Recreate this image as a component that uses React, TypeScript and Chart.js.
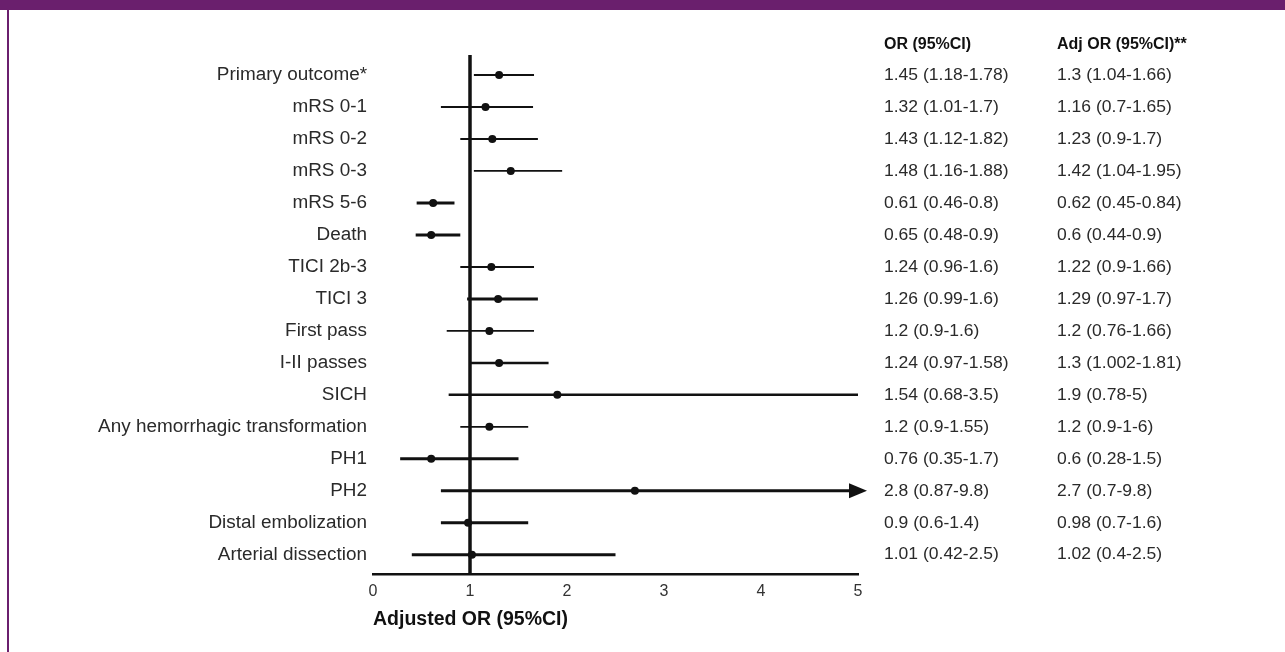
import { useEffect, useRef } from "react";
import { Chart, registerables } from "chart.js";

Chart.register(...registerables);

// ---- Data ----
const outcomes = [
  "Primary outcome*",
  "mRS 0-1",
  "mRS 0-2",
  "mRS 0-3",
  "mRS 5-6",
  "Death",
  "TICI 2b-3",
  "TICI 3",
  "First pass",
  "I-II passes",
  "SICH",
  "Any hemorrhagic transformation",
  "PH1",
  "PH2",
  "Distal embolization",
  "Arterial dissection",
];

const crudeOR = [
  "1.45 (1.18-1.78)",
  "1.32 (1.01-1.7)",
  "1.43 (1.12-1.82)",
  "1.48 (1.16-1.88)",
  "0.61 (0.46-0.8)",
  "0.65 (0.48-0.9)",
  "1.24 (0.96-1.6)",
  "1.26 (0.99-1.6)",
  "1.2 (0.9-1.6)",
  "1.24 (0.97-1.58)",
  "1.54 (0.68-3.5)",
  "1.2 (0.9-1.55)",
  "0.76 (0.35-1.7)",
  "2.8 (0.87-9.8)",
  "0.9 (0.6-1.4)",
  "1.01 (0.42-2.5)",
];

const adjustedORText = [
  "1.3 (1.04-1.66)",
  "1.16 (0.7-1.65)",
  "1.23 (0.9-1.7)",
  "1.42 (1.04-1.95)",
  "0.62 (0.45-0.84)",
  "0.6 (0.44-0.9)",
  "1.22 (0.9-1.66)",
  "1.29 (0.97-1.7)",
  "1.2 (0.76-1.66)",
  "1.3 (1.002-1.81)",
  "1.9 (0.78-5)",
  "1.2 (0.9-1-6)",
  "0.6 (0.28-1.5)",
  "2.7 (0.7-9.8)",
  "0.98 (0.7-1.6)",
  "1.02 (0.4-2.5)",
];

const adjEstimate = [1.3, 1.16, 1.23, 1.42, 0.62, 0.6, 1.22, 1.29, 1.2, 1.3, 1.9, 1.2, 0.6, 2.7, 0.98, 1.02];
const adjLower = [1.04, 0.7, 0.9, 1.04, 0.45, 0.44, 0.9, 0.97, 0.76, 1.002, 0.78, 0.9, 0.28, 0.7, 0.7, 0.4];
const adjUpper = [1.66, 1.65, 1.7, 1.95, 0.84, 0.9, 1.66, 1.7, 1.66, 1.81, 5, 1.6, 1.5, 9.8, 1.6, 2.5];

const xTicks = [0, 1, 2, 3, 4, 5];
const columnHeaders = ["OR (95%CI)", "Adj OR (95%CI)**"];
const axisTitle = "Adjusted OR (95%CI)";
const referenceOR = 1;

// ---- Styles (kept apart from data) ----
const ciLineWidths = [1.8, 1.8, 2, 1.8, 3, 3, 2, 3, 1.8, 2.5, 2.5, 1.8, 3, 3, 3, 3];
const FONT = "'Liberation Sans', Arial, Helvetica, sans-serif";
const PURPLE = "#6a1f6d";

function drawText(
  ctx: CanvasRenderingContext2D,
  text: string,
  x: number,
  y: number,
  align: CanvasTextAlign,
  font: string,
  color: string,
  sx: number
) {
  ctx.save();
  ctx.translate(x, y);
  ctx.scale(sx, 1);
  ctx.font = font;
  ctx.textAlign = align;
  ctx.textBaseline = "middle";
  ctx.fillStyle = color;
  ctx.fillText(text, 0, 0);
  ctx.restore();
}

const forestPlugin = {
  id: "forest",
  beforeDatasetsDraw(chart: any) {
    const { ctx, chartArea, scales } = chart;
    const xs = scales.x;
    const ys = scales.y;
    const xMax = xs.max;
    ctx.save();
    // reference line
    const rx = xs.getPixelForValue(referenceOR);
    ctx.strokeStyle = "#111";
    ctx.lineWidth = 3.5;
    ctx.beginPath();
    ctx.moveTo(rx, chartArea.top);
    ctx.lineTo(rx, chartArea.bottom);
    ctx.stroke();
    // CI lines
    adjEstimate.forEach((_, i) => {
      const y = ys.getPixelForValue(i);
      const lo = xs.getPixelForValue(Math.max(adjLower[i], xs.min));
      const hiVal = Math.min(adjUpper[i], xMax);
      const hi = xs.getPixelForValue(hiVal);
      ctx.lineWidth = ciLineWidths[i];
      ctx.strokeStyle = "#111";
      ctx.beginPath();
      ctx.moveTo(lo, y);
      ctx.lineTo(adjUpper[i] > xMax ? hi - 6 : hi, y);
      ctx.stroke();
      if (adjUpper[i] > xMax) {
        ctx.fillStyle = "#111";
        ctx.beginPath();
        ctx.moveTo(hi - 9, y - 7.5);
        ctx.lineTo(hi + 9, y);
        ctx.lineTo(hi - 9, y + 7.5);
        ctx.closePath();
        ctx.fill();
      }
    });
    ctx.restore();
  },
  afterDraw(chart: any) {
    const { ctx, chartArea, scales } = chart;
    const ys = scales.y;
    const labelX = chartArea.left - 6;
    const col1X = chartArea.right + 26;
    const col2X = chartArea.right + 199;
    const bodyFont = `17px ${FONT}`;
    const labelFont = `18px ${FONT}`;
    const headFont = `bold 16px ${FONT}`;
    const headerY = ys.getPixelForValue(-0.94);
    drawText(ctx, columnHeaders[0], col1X, headerY, "left", headFont, "#111", 1.0);
    drawText(ctx, columnHeaders[1], col2X, headerY, "left", headFont, "#111", 1.0);
    outcomes.forEach((label, i) => {
      const y = ys.getPixelForValue(i);
      drawText(ctx, label, labelX, y, "right", labelFont, "#2a2a2a", 1.05);
      drawText(ctx, crudeOR[i], col1X, y, "left", bodyFont, "#2a2a2a", 1.03);
      drawText(ctx, adjustedORText[i], col2X, y, "left", bodyFont, "#2a2a2a", 1.03);
    });
  },
};

export default function App() {
  const canvasRef = useRef<HTMLCanvasElement | null>(null);

  useEffect(() => {
    const canvas = canvasRef.current;
    if (!canvas) return;
    const chart = new Chart(canvas, {
      type: "scatter",
      data: {
        datasets: [
          {
            label: "Adjusted OR",
            data: adjEstimate.map((v, i) => ({ x: v, y: i })),
            pointRadius: 4,
            pointHoverRadius: 4,
            backgroundColor: "#111",
            borderColor: "#111",
            borderWidth: 0,
          },
        ],
      },
      options: {
        animation: false,
        responsive: true,
        maintainAspectRatio: false,
        layout: { padding: { left: 373, right: 427, top: 55, bottom: 0 } },
        plugins: {
          legend: { display: false },
          tooltip: { enabled: false },
        },
        scales: {
          x: {
            type: "linear",
            min: xTicks[0],
            max: xTicks[xTicks.length - 1],
            afterBuildTicks: (scale: any) => {
              scale.ticks = xTicks.map((v) => ({ value: v }));
            },
            afterFit: (scale: any) => {
              scale.height = 78;
            },
            grid: { display: false, drawTicks: false },
            border: { display: true, color: "#111", width: 2.5 },
            ticks: {
              padding: 8,
              color: "#333",
              font: { family: FONT, size: 16 },
            },
            title: {
              display: true,
              text: axisTitle,
              align: "start",
              color: "#111",
              font: { family: FONT, size: 19.5, weight: "bold" },
              padding: { top: 0, bottom: 21 },
            },
          },
          y: {
            type: "linear",
            display: false,
            reverse: true,
            min: -0.625,
            max: 15.6,
          },
        },
      },
      plugins: [forestPlugin],
    });
    return () => chart.destroy();
  }, []);

  return (
    <div style={{ position: "absolute", left: 0, top: 0, width: 1285, height: 652, background: "#fff" }}>
      <div style={{ position: "absolute", left: 0, top: 0, width: 1285, height: 10, background: PURPLE }} />
      <div style={{ position: "absolute", left: 7, top: 10, width: 2, height: 642, background: PURPLE }} />
      <div style={{ position: "absolute", left: 0, top: 0, width: 1285, height: 652 }}>
        <canvas ref={canvasRef} />
      </div>
    </div>
  );
}
